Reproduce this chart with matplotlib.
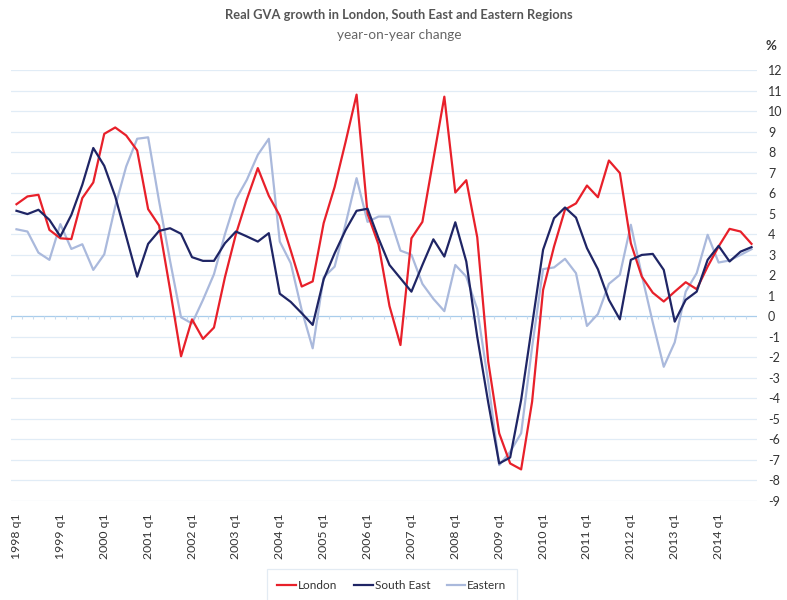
import matplotlib
matplotlib.use('Agg')
import matplotlib.pyplot as plt
import numpy as np

plt.rcParams['font.family'] = ['Lato', 'DejaVu Sans']
plt.rc('axes', unicode_minus=False)

# quarters 1998 q1 .. 2014 q4
years = list(range(1998, 2015))
quarters = ['%d q%d' % (y, q) for y in years for q in range(1, 5)]

london = [5.46, 5.84, 5.92, 4.21, 3.80, 3.76, 5.76, 6.52, 8.89, 9.20, 8.81, 8.08,
          5.22, 4.42, 1.30, -1.95, -0.15, -1.10, -0.55, 1.90, 4.00, 5.70, 7.22, 5.87,
          4.90, 3.20, 1.45, 1.70, 4.54, 6.30, 8.50, 10.80, 5.00, 3.50, 0.50, -1.40,
          3.80, 4.60, 7.65, 10.70, 6.03, 6.63, 3.85, -2.20, -5.70, -7.17, -7.46, -4.16,
          1.28, 3.40, 5.20, 5.50, 6.37, 5.80, 7.59, 6.98, 3.56, 1.93, 1.15, 0.72,
          1.20, 1.66, 1.32, 2.42, 3.40, 4.26, 4.13, 3.53]

south_east = [5.14, 4.98, 5.19, 4.70, 3.89, 4.94, 6.41, 8.20, 7.33, 5.84, 3.89, 1.93,
              3.53, 4.16, 4.29, 4.02, 2.88, 2.70, 2.70, 3.56, 4.13, 3.89, 3.64, 4.05,
              1.10, 0.70, 0.15, -0.42, 1.80, 3.07, 4.20, 5.14, 5.24, 3.80, 2.50, 1.85,
              1.20, 2.50, 3.75, 2.91, 4.58, 2.67, -1.00, -4.20, -7.17, -6.88, -4.08, -0.42,
              3.24, 4.78, 5.30, 4.81, 3.32, 2.29, 0.80, -0.15, 2.75, 2.99, 3.04, 2.26,
              -0.26, 0.80, 1.20, 2.75, 3.43, 2.67, 3.15, 3.37]

eastern = [4.24, 4.13, 3.10, 2.75, 4.49, 3.28, 3.51, 2.26, 3.02, 5.35, 7.30, 8.65,
           8.72, 5.60, 2.70, -0.05, -0.35, 0.80, 2.05, 4.00, 5.70, 6.65, 7.87, 8.65,
           3.64, 2.59, 0.30, -1.56, 1.90, 2.42, 4.50, 6.73, 4.60, 4.86, 4.86, 3.20,
           3.00, 1.58, 0.85, 0.25, 2.50, 1.93, 0.35, -3.20, -7.25, -6.60, -5.70, -1.50,
           2.30, 2.38, 2.80, 2.10, -0.47, 0.11, 1.58, 2.02, 4.46, 2.00, -0.30, -2.46,
           -1.27, 1.20, 2.10, 3.97, 2.62, 2.72, 2.99, 3.27]

x = np.arange(len(quarters))

fig = plt.figure(figsize=(7.87, 6.0), dpi=100)
ax = fig.add_axes([11 / 787, 99 / 600, 746 / 787, 431 / 600])

# grid
for v in range(-9, 13):
    if v != 0:
        ax.axhline(v, color='#e1ecf6', lw=0.9, zorder=0)
ax.axhline(0, color='#a9cdeb', lw=0.9, zorder=1)
# small ticks between quarters on the zero line
ax.vlines(np.arange(-0.5, len(quarters)), -0.15, 0, color='#c9dcef', lw=0.8, zorder=1)

ax.plot(x, eastern, color='#aab9dc', lw=1.6, label='Eastern', zorder=2)
ax.plot(x, london, color='#e8202a', lw=1.6, label='London', zorder=3)
ax.plot(x, south_east, color='#1f2565', lw=1.6, label='South East', zorder=4)

ax.set_xlim(-0.5, len(quarters) - 0.5)
ax.set_ylim(-9, 12)
ax.set_yticks(range(-9, 13))
ax.yaxis.tick_right()
ax.tick_params(axis='y', length=0, pad=8, labelsize=9, labelcolor='#333333')
ax.set_xticks(x[::4])
ax.set_xticklabels(quarters[::4], rotation=90, va='top', ha='center')
ax.tick_params(axis='x', length=0, pad=9, labelsize=8.8, labelcolor='#333333')
for s in ax.spines.values():
    s.set_visible(False)

fig.text(0.507, 0.975, 'Real GVA growth in London, South East and Eastern Regions',
         ha='center', va='center', fontsize=9.3, fontweight='bold', color='#555555')
fig.text(0.507, 0.941, 'year-on-year change', ha='center', va='center',
         fontsize=9.8, color='#666666')
fig.text(771 / 787, 1 - 46 / 600, '%', ha='center', va='center', fontsize=9.5,
         fontweight='bold', color='#333333')

handles, labels = ax.get_legend_handles_labels()
order = [1, 2, 0]
leg = fig.legend([handles[i] for i in order], [labels[i] for i in order],
                 loc='lower center', bbox_to_anchor=(0.498, -0.012), ncol=3,
                 frameon=True, fancybox=False, fontsize=8.5, handlelength=1.6,
                 handletextpad=0.15, columnspacing=1.4, borderpad=0.9)
leg.get_frame().set_edgecolor('#dce6f0')
leg.get_frame().set_linewidth(0.9)
for t in leg.get_texts():
    t.set_color('#333333')

fig.savefig('out.png', dpi=100)
